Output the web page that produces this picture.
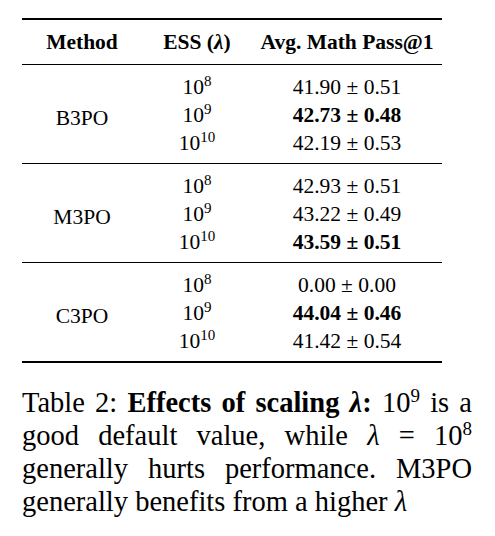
<!DOCTYPE html>
<html><head><meta charset="utf-8">
<script src="https://cdn.jsdelivr.net/npm/chart.js@4"></script>
<style>
body{margin:0;background:#fff;font-family:"Liberation Serif","DejaVu Serif",serif;color:#000}
#wrap{position:absolute;left:22px;top:18px;width:420px}
table{border-collapse:collapse;width:100%;font-size:21.5px;table-layout:fixed}
th{font-weight:bold;height:42px;border-top:2px solid #000;border-bottom:1.5px solid #000;white-space:nowrap}
td{text-align:center;height:28px;line-height:28px;padding:0;white-space:nowrap}
tr.first td{padding-top:8px}
tr.last td{padding-bottom:6px}
tr.sep td{border-bottom:1px solid #000}
tr.end td{border-bottom:2px solid #000}
sup{font-size:15px;line-height:0}
#cap{position:absolute;left:22px;top:386px;width:450px;font-size:28.5px;line-height:33px;text-align:justify}
#cap sup{font-size:19px}
</style></head><body>
<div id="wrap"><table id="t"><colgroup><col style="width:120px"><col style="width:110px"><col style="width:190px"></colgroup></table></div>
<div id="cap">Table 2: <b>Effects of scaling <i>λ</i>:</b> 10<sup>9</sup> is a good default value, while <i>λ</i> = 10<sup>8</sup> generally hurts performance. M3PO generally benefits from a higher <i>λ</i></div>
<script>
const headers = ['Method', 'ESS (<i>λ</i>)', 'Avg. Math Pass@1'];
const methods = ['B3PO', 'M3PO', 'C3PO'];
const essExp = [8, 9, 10];
const means = [[41.90, 42.73, 42.19], [42.93, 43.22, 43.59], [0.00, 44.04, 41.42]];
const stds = [[0.51, 0.48, 0.53], [0.51, 0.49, 0.51], [0.00, 0.46, 0.54]];
const best = [1, 2, 1];

const t = document.getElementById('t');
let h = '<tr>' + headers.map(x => '<th>' + x + '</th>').join('') + '</tr>';
methods.forEach((m, g) => {
  essExp.forEach((e, i) => {
    let cls = [];
    if (i === 0) cls.push('first');
    if (i === 2) cls.push('last', g === methods.length - 1 ? 'end' : 'sep');
    let v = means[g][i].toFixed(2) + ' ± ' + stds[g][i].toFixed(2);
    if (best[g] === i) v = '<b>' + v + '</b>';
    h += '<tr class="' + cls.join(' ') + '">' +
      (i === 0 ? '<td rowspan="3" style="border-bottom:' + (g === 2 ? '2px' : '1px') + ' solid #000">' + m + '</td>' : '') +
      '<td>10<sup>' + e + '</sup></td><td>' + v + '</td></tr>';
  });
});
t.insertAdjacentHTML('beforeend', h);
</script>
</body></html>
